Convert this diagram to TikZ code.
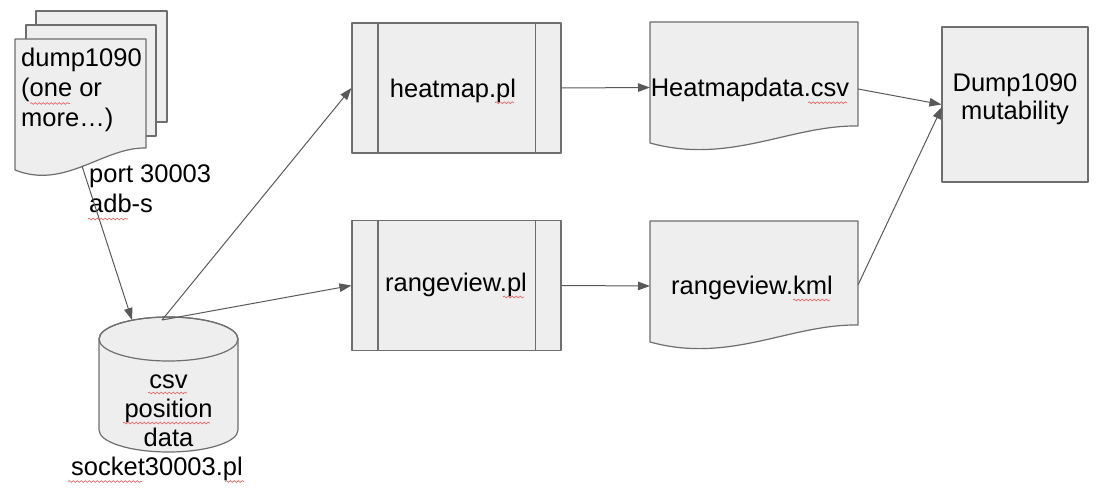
\documentclass[tikz,border=0pt]{standalone}
\usepackage{fontspec}
\setmainfont{Liberation Sans}
\usetikzlibrary{arrows.meta,decorations.pathmorphing}
\definecolor{fillg}{HTML}{EEEEEE}
\definecolor{lineg}{HTML}{6E6E6E}
\definecolor{arrg}{HTML}{595959}
\definecolor{spellred}{HTML}{E86A6A}
\begin{document}
\begin{tikzpicture}[x=1pt,y=-1pt,
  shp/.style={draw=lineg,fill=fillg,line width=1.2pt,line join=round},
  edge/.style={draw=lineg,line width=1.2pt},
  conn/.style={draw=arrg,line width=1pt,-{Triangle[length=12pt,width=8.5pt]}},
  txt/.style={font=\fontsize{25.5}{30}\selectfont,inner sep=0pt,text=black},
  proc/.style={shp,rectangle,minimum width=209pt,minimum height=130pt,inner sep=0pt},
  squig/.style={draw=spellred,line width=0.7pt,decorate,decoration={snake,segment length=4pt,amplitude=0.9pt}}]
\useasboundingbox (0,0) rectangle (1103,489);

% stacked documents: dump1090
\path[shp] (36,11) rectangle (167,122);
\path[shp] (26,25) rectangle (156,136);
\path[shp] (15,39) -- (146,39) -- (146,148) .. controls (103,147) and (65,190) .. (15,170) -- cycle;
\node[txt,anchor=north west,align=left] (dump) at (21,48.3) {dump1090\\(one or\\more…)};
\coordinate (dumpout) at (82,166);

% connector label
\node[txt,anchor=north west,align=left] (port) at (89,164.5) {port 30003\\adb-s};

% cylinder
\path[shp] (99,339) -- (99,430) arc[start angle=180,end angle=360,x radius=69.5pt,y radius=22pt]
  -- (238,339) arc[start angle=0,end angle=180,x radius=69.5pt,y radius=22pt] -- cycle;
\draw[edge] (168.5,339) ellipse [x radius=69.5pt,y radius=22pt];
\node[txt,anchor=north,align=center,font=\fontsize{25.5}{29}\selectfont] (cyl) at (168.5,374.5) {csv\\position\\data};
\node[txt,anchor=base] (sock) at (157,475) {socket30003.pl};
\coordinate (cylin) at (132,320);
\coordinate (cylout) at (162,320);

% process boxes
\node[proc] (heat) at (456.5,88) {};
\draw[edge] ([xshift=26.5pt]heat.north west) -- ([xshift=26.5pt]heat.south west);
\draw[edge] ([xshift=-26pt]heat.north east) -- ([xshift=-26pt]heat.south east);
\node[txt,anchor=base] (heattxt) at (453,97.3) {heatmap.pl};

\node[proc] (rv) at (456.5,285.5) {};
\draw[edge] ([xshift=26.5pt]rv.north west) -- ([xshift=26.5pt]rv.south west);
\draw[edge] ([xshift=-26pt]rv.north east) -- ([xshift=-26pt]rv.south east);
\node[txt,anchor=base] (rvtxt) at (456,291.5) {rangeview.pl};

% output documents
\path[shp] (650,22) -- (858,22) -- (858,126) .. controls (790,125) and (730,165) .. (650,143) -- cycle;
\node[txt,anchor=base] (hmd) at (750,97) {Heatmapdata.csv};
\coordinate (hmdin) at (650,87.5);
\coordinate (hmdout) at (858,89);

\path[shp] (650,221) -- (858,221) -- (858,325) .. controls (790,324) and (730,364) .. (650,342) -- cycle;
\node[txt,anchor=base] (rvk) at (752,294.3) {rangeview.kml};
\coordinate (rvkin) at (650,286);
\coordinate (rvkout) at (858,285);

% mutability box
\node[shp,rectangle,minimum width=146pt,minimum height=155pt,inner sep=0pt] (mut) at (1015,104.5) {};
\node[txt,anchor=north,align=center,font=\fontsize{25.5}{28}\selectfont] (muttxt) at (1015,73.6) {Dump1090\\mutability};
\coordinate (mutin2) at (942,107);

% spell-check marks
\draw[squig] (30,103.5) -- (70,103.5);
\draw[squig] (88,219) -- (128,219);
\draw[squig] (148,393) -- (187,393);
\draw[squig] (123,423) -- (210,423);
\draw[squig] (68,481.5) -- (142,481.5);
\draw[squig] (225,481.5) -- (244,481.5);
\draw[squig] (495,102.7) -- (514,102.7);
\draw[squig] (503,297) -- (524,297);
\draw[squig] (808,102.7) -- (847,102.7);
\draw[squig] (793,300) -- (830,300);

% connectors
\draw[conn] (dumpout) -- (cylin);
\draw[conn] (cylout) -- (heat.west);
\draw[conn] (cylout) -- (rv.west);
\draw[conn] (heat.east) -- (hmdin);
\draw[conn] (rv.east) -- (rvkin);
\draw[conn] (hmdout) -- (mut.west);
\draw[conn] (rvkout) -- (mutin2);
\end{tikzpicture}
\end{document}
